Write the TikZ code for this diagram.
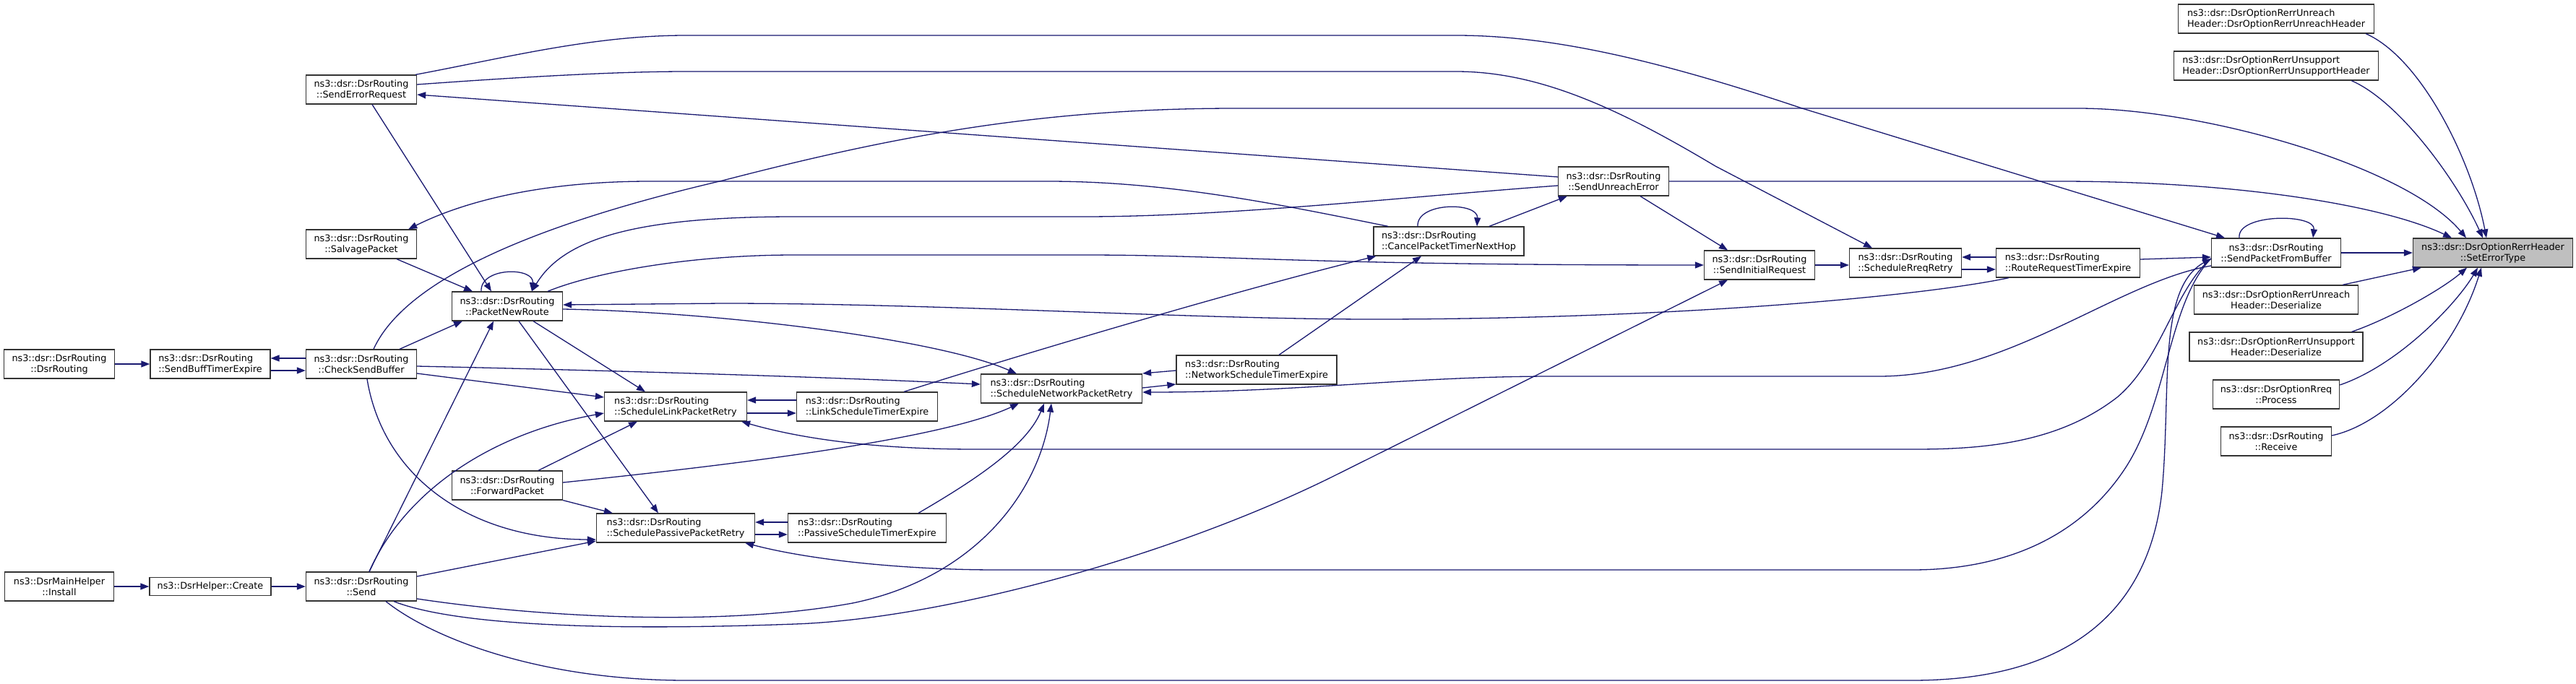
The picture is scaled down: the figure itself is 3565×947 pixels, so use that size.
\documentclass[tikz,border=0pt]{standalone}
\usepackage{fontspec}
\setmainfont{DejaVu Sans}
\usetikzlibrary{arrows.meta}
\definecolor{edgeBlue}{HTML}{191970}

\begin{document}
\begin{tikzpicture}[x=1pt, y=-1pt, font=\fontsize{12.8}{15}\selectfont]
	\tikzstyle{funcStyle}=[draw=black!80, line width=1.3pt, fill=white, minimum height=40pt, inner sep=0pt, align=center]
	\tikzstyle{leftStyle}=[funcStyle, align=left]
	\tikzstyle{rootStyle}=[funcStyle, fill=black!25]
	\tikzstyle{callStyle}=[draw=edgeBlue, line width=1.3pt, -{Triangle[length=12pt, width=9pt]}]
	\useasboundingbox (0,0) rectangle (3565,947);
	\node[funcStyle, minimum width=153pt] (nDsrRouting) at (82,504) {ns3::dsr::DsrRouting\\::DsrRouting};
	\node[leftStyle, minimum width=166pt] (nBuffTimer) at (291,504) {ns3::dsr::DsrRouting\\::SendBuffTimerExpire};
	\node[funcStyle, minimum width=153pt] (nCheckBuffer) at (500,504) {ns3::dsr::DsrRouting\\::CheckSendBuffer};
	\node[funcStyle, minimum width=151pt] (nInstall) at (82,812) {ns3::DsrMainHelper\\::Install};
	\node[funcStyle, minimum width=168pt, minimum height=25pt] (nCreate) at (291,812) {ns3::DsrHelper::Create};
	\node[funcStyle, minimum width=153pt] (nSend) at (500,812) {ns3::dsr::DsrRouting\\::Send};
	\node[funcStyle, minimum width=153pt] (nSendErrReq) at (500,124) {ns3::dsr::DsrRouting\\::SendErrorRequest};
	\node[funcStyle, minimum width=153pt] (nSalvage) at (500,338) {ns3::dsr::DsrRouting\\::SalvagePacket};
	\node[funcStyle, minimum width=153pt] (nNewRoute) at (702,424) {ns3::dsr::DsrRouting\\::PacketNewRoute};
	\node[funcStyle, minimum width=153pt] (nForward) at (702,672) {ns3::dsr::DsrRouting\\::ForwardPacket};
	\node[leftStyle, minimum width=197pt] (nLinkRetry) at (935,563) {ns3::dsr::DsrRouting\\::ScheduleLinkPacketRetry};
	\node[leftStyle, minimum width=219pt] (nPassiveRetry) at (935,731) {ns3::dsr::DsrRouting\\::SchedulePassivePacketRetry};
	\node[leftStyle, minimum width=195pt] (nLinkTimer) at (1200,563) {ns3::dsr::DsrRouting\\::LinkScheduleTimerExpire};
	\node[leftStyle, minimum width=219pt] (nPassiveTimer) at (1200,731) {ns3::dsr::DsrRouting\\::PassiveScheduleTimerExpire};
	\node[leftStyle, minimum width=223pt] (nNetRetry) at (1469,538) {ns3::dsr::DsrRouting\\::ScheduleNetworkPacketRetry};
	\node[leftStyle, minimum width=222pt] (nNetTimer) at (1739,512) {ns3::dsr::DsrRouting\\::NetworkScheduleTimerExpire};
	\node[leftStyle, minimum width=208pt] (nCancelTimer) at (2005,334) {ns3::dsr::DsrRouting\\::CancelPacketTimerNextHop};
	\node[funcStyle, minimum width=153pt] (nUnreachErr) at (2233,251) {ns3::dsr::DsrRouting\\::SendUnreachError};
	\node[funcStyle, minimum width=153pt] (nInitReq) at (2435,367) {ns3::dsr::DsrRouting\\::SendInitialRequest};
	\node[funcStyle, minimum width=155pt] (nRreqRetry) at (2637,364) {ns3::dsr::DsrRouting\\::ScheduleRreqRetry};
	\node[leftStyle, minimum width=199pt] (nRreqTimer) at (2862,364) {ns3::dsr::DsrRouting\\::RouteRequestTimerExpire};
	\node[funcStyle, minimum width=179pt] (nFromBuffer) at (3150,350) {ns3::dsr::DsrRouting\\::SendPacketFromBuffer};
	\node[rootStyle, minimum width=221pt] (nSetErrType) at (3450,350) {ns3::dsr::DsrOptionRerrHeader\\::SetErrorType};
	\node[leftStyle, minimum width=271pt] (nUnreachCtor) at (3150,26) {ns3::dsr::DsrOptionRerrUnreach\\Header::DsrOptionRerrUnreachHeader};
	\node[leftStyle, minimum width=283pt] (nUnsupCtor) at (3150,91) {ns3::dsr::DsrOptionRerrUnsupport\\Header::DsrOptionRerrUnsupportHeader};
	\node[funcStyle, minimum width=227pt] (nUnreachDeser) at (3150,415) {ns3::dsr::DsrOptionRerrUnreach\\Header::Deserialize};
	\node[funcStyle, minimum width=240pt] (nUnsupDeser) at (3150,480) {ns3::dsr::DsrOptionRerrUnsupport\\Header::Deserialize};
	\node[funcStyle, minimum width=175pt] (nRreqProcess) at (3150,546) {ns3::dsr::DsrOptionRreq\\::Process};
	\node[funcStyle, minimum width=153pt] (nReceive) at (3150,611) {ns3::dsr::DsrRouting\\::Receive};
	\draw[callStyle] (nDsrRouting) -- (nBuffTimer);
	\draw[callStyle] ([yshift=8pt]nCheckBuffer.west) -- ([yshift=8pt]nBuffTimer.east);
	\draw[callStyle] ([yshift=-9pt]nBuffTimer.east) -- ([yshift=-9pt]nCheckBuffer.west);
	\draw[callStyle] (nInstall) -- (nCreate);
	\draw[callStyle] (nCreate) -- (nSend);
	\draw[callStyle] ([xshift=15pt]nSendErrReq.south) -- ([xshift=-22pt]nNewRoute.north);
	\draw[callStyle] ([xshift=49pt]nSalvage.south) -- ([xshift=-48pt]nNewRoute.north);
	\draw[callStyle] ([xshift=53pt]nCheckBuffer.north) -- ([xshift=-62pt]nNewRoute.south);
	\draw[callStyle] ([xshift=11pt]nSend.north) -- ([xshift=-19pt]nNewRoute.south);
	\draw[callStyle] ([xshift=36pt]nNewRoute.south) -- ([xshift=-42pt]nLinkRetry.north);
	\draw[callStyle] ([xshift=16pt]nNewRoute.south) -- ([xshift=-24pt]nPassiveRetry.north);
	\draw[callStyle] ([yshift=-13pt]nCheckBuffer.east) -- ([yshift=13pt]nLinkRetry.west);
	\draw[callStyle] ([yshift=-3pt]nCheckBuffer.east) .. controls (800,512) and (1100,520) .. ([yshift=6pt]nNetRetry.west);
	\draw[callStyle] ([xshift=8pt]nCheckBuffer.south) .. controls (530,660) and (650,747) .. ([yshift=-16pt]nPassiveRetry.west);
	\draw[callStyle] ([xshift=17pt]nCheckBuffer.north) .. controls (555,400) and (700,320) .. (1000,250) .. controls (1250,185) and (1450,150) .. (1711,150) -- (2876,150) .. controls (3050,150) and (3330,230) .. ([xshift=-37pt]nSetErrType.north);
	\draw[callStyle] ([xshift=11pt]nSend.north) .. controls (560,680) and (680,600) .. ([yshift=-9pt]nLinkRetry.west);
	\draw[callStyle] ([yshift=14pt]nSend.east) -- ([yshift=-18pt]nPassiveRetry.west);
	\draw[callStyle] ([yshift=-17pt]nSend.east) .. controls (750,855) and (1000,868) .. (1180,835) .. controls (1350,800) and (1440,680) .. ([xshift=-14pt]nNetRetry.south);
	\draw[callStyle] ([xshift=45pt]nSend.south) .. controls (620,862) and (800,875) .. (1100,864) .. controls (1300,857) and (1620,772) .. (1850,657) -- ([xshift=-44pt]nInitReq.south);
	\draw[callStyle] ([xshift=34pt]nSend.south) .. controls (600,885) and (750,942) .. (950,942) -- (2646,942) .. controls (2870,942) and (2975,840) .. (2992,680) .. controls (3005,540) and (2985,400) .. ([yshift=-8pt]nFromBuffer.west);
	\draw[callStyle] ([xshift=43pt]nForward.north) -- ([xshift=-53pt]nLinkRetry.south);
	\draw[callStyle] (nForward.south east) -- ([xshift=23pt]nPassiveRetry.north west);
	\draw[callStyle] ([yshift=4pt]nForward.east) .. controls (1000,645) and (1300,610) .. ([xshift=-59pt]nNetRetry.south);
	\draw[callStyle] ([yshift=9pt]nLinkTimer.west) -- ([yshift=9pt]nLinkRetry.east);
	\draw[callStyle] ([yshift=-9pt]nLinkRetry.east) -- ([yshift=-9pt]nLinkTimer.west);
	\draw[callStyle] ([yshift=8pt]nPassiveTimer.west) -- ([yshift=8pt]nPassiveRetry.east);
	\draw[callStyle] ([yshift=-9pt]nPassiveRetry.east) -- ([yshift=-9pt]nPassiveTimer.west);
	\draw[callStyle] ([xshift=71pt]nPassiveTimer.north) .. controls (1340,670) and (1420,620) .. ([xshift=-24pt]nNetRetry.south);
	\draw[callStyle] ([yshift=-1pt]nNetTimer.west) -- ([yshift=21pt]nNetRetry.east);
	\draw[callStyle] ([yshift=1pt]nNetRetry.east) -- ([yshift=-20pt]nNetTimer.west);
	\draw[callStyle] ([xshift=51pt]nLinkTimer.north) .. controls (1400,495) and (1700,405) .. ([xshift=4pt]nCancelTimer.south west);
	\draw[callStyle] ([xshift=31pt]nNetTimer.north) -- ([xshift=-38pt]nCancelTimer.south);
	\draw[callStyle] ([xshift=-43pt]nCancelTimer.north) .. controls ([xshift=-45pt,yshift=34pt]nCancelTimer.north) and ([xshift=41pt,yshift=34pt]nCancelTimer.north) .. ([xshift=39pt]nCancelTimer.north);
	\draw[callStyle] ([xshift=56pt]nCancelTimer.north) -- ([xshift=13pt]nUnreachErr.south west);
	\draw[callStyle] ([xshift=-84pt]nCancelTimer.north) .. controls (1780,285) and (1620,251) .. (1450,251) -- (900,251) .. controls (760,251) and (650,275) .. ([xshift=-12pt]nSalvage.north east);
	\draw[callStyle] ([yshift=6pt]nUnreachErr.west) -- ([yshift=-7pt]nSendErrReq.east);
	\draw[callStyle] ([yshift=-6pt]nUnreachErr.west) .. controls (1950,272) and (1700,300) .. (1500,300) -- (1100,300) .. controls (880,300) and (780,330) .. ([xshift=34pt]nNewRoute.north);
	\draw[callStyle] ([xshift=37pt]nUnreachErr.south) -- ([xshift=-44pt]nInitReq.north);
	\draw[callStyle] (nUnreachErr.east) -- (2850,251) .. controls (3100,251) and (3300,285) .. ([xshift=-57pt]nSetErrType.north);
	\draw[callStyle] (nInitReq.east) -- (nInitReq.east -| nRreqRetry.west);
	\draw[callStyle] ([yshift=8pt]nRreqTimer.west) -- ([yshift=8pt]nRreqRetry.east);
	\draw[callStyle] ([yshift=-9pt]nRreqRetry.east) -- ([yshift=-9pt]nRreqTimer.west);
	\draw[callStyle] ([yshift=5pt]nRreqTimer.east) -- ([yshift=-6pt]nFromBuffer.west);
	\draw[callStyle] ([xshift=-82pt]nRreqTimer.south) .. controls (2650,412) and (2300,442) .. (1900,442) .. controls (1650,442) and (1300,420) .. (1000,420) -- ([yshift=2pt]nNewRoute.east);
	\draw[callStyle] ([xshift=-36pt]nNewRoute.north) .. controls ([xshift=-38pt,yshift=34pt]nNewRoute.north) and ([xshift=38pt,yshift=34pt]nNewRoute.north) .. ([xshift=34pt]nNewRoute.north);
	\draw[callStyle] ([yshift=-4pt]nNewRoute.east) .. controls (1000,432) and (1300,470) .. ([xshift=-62pt]nNetRetry.north);
	\draw[callStyle] ([xshift=56pt]nNewRoute.north) .. controls (820,378) and (950,353) .. (1100,353) -- (1500,353) .. controls (1700,353) and (1800,367) .. (nInitReq.west);
	\draw[callStyle] ([yshift=7pt]nSendErrReq.east) .. controls (716,107) and (850,99) .. (950,99) -- (2015,99) .. controls (2130,99) and (2240,150) .. (2374,230) -- ([xshift=-46pt]nRreqRetry.north);
	\draw[callStyle] ([xshift=75pt]nSendErrReq.north) .. controls (700,80) and (820,49) .. (950,49) -- (2015,49) .. controls (2150,49) and (2300,85) .. (2494,150) -- ([xshift=-71pt]nFromBuffer.north);
	\draw[callStyle] ([yshift=-18pt]nFromBuffer.west) .. controls (2930,390) and (2780,521) .. (2600,521) -- (2150,521) .. controls (1950,521) and (1800,543) .. ([yshift=-5pt]nNetRetry.east);
	\draw[callStyle] ([yshift=-8pt]nFromBuffer.west) .. controls (3010,400) and (2990,500) .. (2930,550) .. controls (2850,612) and (2750,622) .. (2650,622) -- (1350,622) .. controls (1200,622) and (1100,605) .. ([xshift=-8pt]nLinkRetry.south east);
	\draw[callStyle] ([yshift=-8pt]nFromBuffer.west) .. controls (3000,420) and (3000,560) .. (2940,650) .. controls (2880,740) and (2780,789) .. (2646,789) -- (1380,789) .. controls (1250,789) and (1120,775) .. ([xshift=-14pt]nPassiveRetry.south east);
	\draw[callStyle] ([xshift=-51pt]nFromBuffer.north) .. controls ([xshift=-55pt,yshift=34pt]nFromBuffer.north) and ([xshift=55pt,yshift=34pt]nFromBuffer.north) .. ([xshift=51pt]nFromBuffer.north);
	\draw[callStyle] (nFromBuffer) -- (nSetErrType);
	\draw[callStyle] ([xshift=-12pt]nUnreachCtor.south east) .. controls (3350,80) and (3420,220) .. ([xshift=-9pt]nSetErrType.north);
	\draw[callStyle] ([xshift=-38pt]nUnsupCtor.south east) .. controls (3320,140) and (3400,250) .. ([xshift=-14pt]nSetErrType.north);
	\draw[callStyle] ([xshift=-22pt]nUnreachDeser.north east) -- ([xshift=12pt]nSetErrType.south west);
	\draw[callStyle] ([xshift=-16pt]nUnsupDeser.north east) .. controls (3310,440) and (3380,400) .. ([xshift=-36pt]nSetErrType.south);
	\draw[callStyle] ([yshift=13pt]nRreqProcess.east) .. controls (3320,505) and (3400,420) .. ([xshift=-21pt]nSetErrType.south);
	\draw[callStyle] ([yshift=8pt]nReceive.east) .. controls (3310,585) and (3400,480) .. ([xshift=-16pt]nSetErrType.south);
\end{tikzpicture}
\end{document}
